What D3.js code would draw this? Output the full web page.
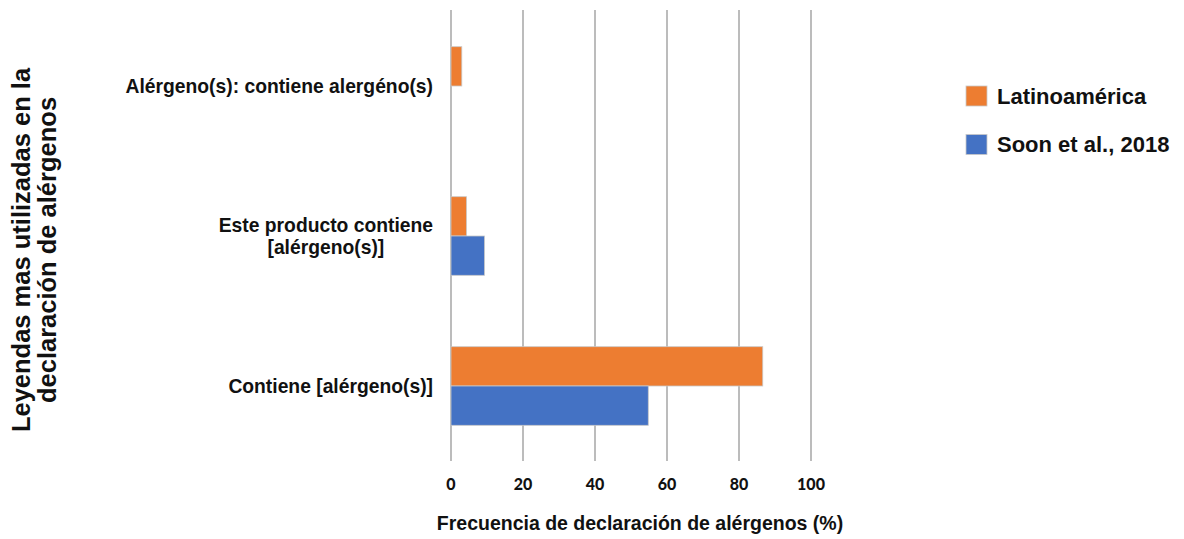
<!DOCTYPE html>
<html>
<head>
<meta charset="utf-8">
<script src="https://cdn.jsdelivr.net/npm/d3@7"></script>
<style>
  html, body { margin: 0; padding: 0; background: #fff; }
  svg { display: block; }
</style>
</head>
<body>
<svg id="chart" width="1184" height="539"></svg>
<script>
// Categories listed top to bottom, each possibly spanning two lines
const categories = ["Alérgeno(s): contiene alergéno(s)", "Este producto contiene [alérgeno(s)]", "Contiene [alérgeno(s)]"];
const categoryLines = [["Alérgeno(s): contiene alergéno(s)"], ["Este producto contiene", "[alérgeno(s)]"], ["Contiene [alérgeno(s)]"]];
const seriesNames = ["Latinoamérica", "Soon et al., 2018"];
const latinoamerica = [3, 4.3, 86.6];
const soon2018 = [null, 9.3, 54.8];
const xTicks = [0, 20, 40, 60, 80, 100];
const colors = ["#ED7D31", "#4472C4"];

const svg = d3.select("#chart");
const plot = { left: 451, right: 811, top: 10, bottom: 461 };
const sans = "'Liberation Sans', Arial, sans-serif";

const x = d3.scaleLinear().domain([0, 100]).range([plot.left, plot.right]);
const y = d3.scaleBand().domain(categories).range([plot.top + 1, plot.bottom])
  .paddingInner(0.476).paddingOuter(0.238);
const ySub = d3.scaleBand().domain(seriesNames).range([0, y.bandwidth()]);

// vertical gridlines
svg.append("g").selectAll("line").data(xTicks).join("line")
  .attr("x1", d => x(d)).attr("x2", d => x(d))
  .attr("y1", plot.top).attr("y2", plot.bottom)
  .attr("stroke", "#bcbcbc").attr("stroke-width", 2);

// x tick labels
svg.append("g").selectAll("text").data(xTicks).join("text")
  .attr("x", d => x(d)).attr("y", 490)
  .attr("text-anchor", "middle")
  .attr("font-family", "Lato, 'Open Sans', sans-serif")
  .attr("font-weight", "900").attr("font-size", 16).attr("fill", "#111")
  .text(d => d);

// bars
const seriesData = [latinoamerica, soon2018];
seriesData.forEach((vals, si) => {
  svg.append("g").selectAll("rect")
    .data(categories.map((c, i) => ({ c, v: vals[i] })).filter(d => d.v != null))
    .join("rect")
    .attr("x", x(0))
    .attr("y", d => y(d.c) + ySub(seriesNames[si]))
    .attr("width", d => x(d.v) - x(0))
    .attr("height", ySub.bandwidth())
    .attr("fill", colors[si])
    .attr("stroke", "#c8c8c8").attr("stroke-width", 0.8);
});

// category labels: block right-aligned, lines centered within the block
const labelRight = 433;
categories.forEach((c, i) => {
  const lines = categoryLines[i];
  const g = svg.append("g");
  const cy = y(c) + y.bandwidth() / 2;
  const lh = 22;
  const texts = lines.map((ln, k) => g.append("text")
    .attr("y", cy + (k - (lines.length - 1) / 2) * lh)
    .attr("dy", "0.35em")
    .attr("font-family", sans)
    .attr("font-weight", "bold").attr("font-size", 19.3).attr("fill", "#111")
    .text(ln));
  const widths = texts.map(t => t.node().getComputedTextLength());
  const maxW = Math.max(...widths);
  const center = labelRight - maxW / 2;
  texts.forEach(t => t.attr("x", center).attr("text-anchor", "middle"));
});

// x axis title
svg.append("text")
  .attr("x", 640).attr("y", 523).attr("dy", "0.35em")
  .attr("text-anchor", "middle")
  .attr("font-family", sans)
  .attr("font-weight", "bold").attr("font-size", 19.5).attr("fill", "#111")
  .text("Frecuencia de declaración de alérgenos (%)");

// y axis title, two rotated lines
const yTitle = ["Leyendas mas utilizadas en la", "declaración de alérgenos"];
yTitle.forEach((t, k) => {
  svg.append("text")
    .attr("transform", `translate(${21 + k * 26},250) rotate(-90)`)
    .attr("dy", "0.35em")
    .attr("text-anchor", "middle")
    .attr("font-family", sans)
    .attr("font-weight", "bold").attr("font-size", 25.5).attr("fill", "#111")
    .text(t);
});

// legend
const legend = svg.append("g").attr("transform", "translate(966,86)");
seriesNames.forEach((s, i) => {
  const row = legend.append("g").attr("transform", `translate(0,${i * 48.5})`);
  row.append("rect").attr("width", 21).attr("height", 20).attr("fill", colors[i])
    .attr("stroke", "#c8c8c8").attr("stroke-width", 0.8);
  row.append("text").attr("x", 31).attr("y", 10).attr("dy", "0.36em")
    .attr("font-family", sans)
    .attr("font-weight", "bold").attr("font-size", 22).attr("fill", "#111")
    .text(s);
});
</script>
</body>
</html>
